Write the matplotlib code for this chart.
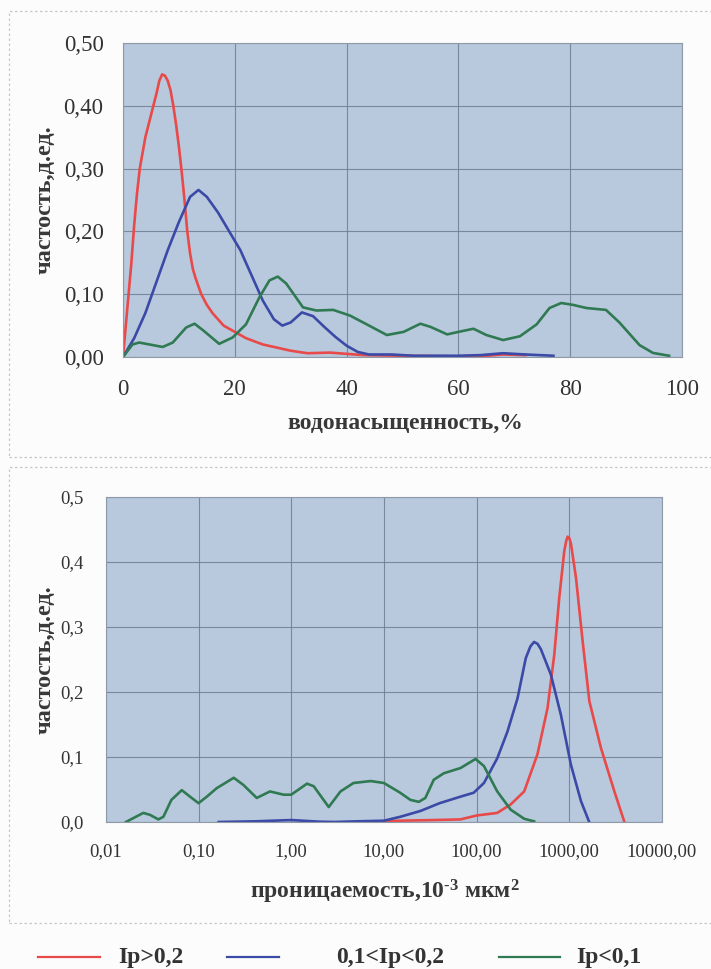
import matplotlib
matplotlib.use("Agg")
import matplotlib.pyplot as plt
from matplotlib.lines import Line2D
from matplotlib.patches import Rectangle

# ---------------- data: top chart (water saturation, %) ----------------
sw_red_x = [0, 0.5, 1, 1.5, 2, 2.5, 3, 4, 5, 6, 6.5, 7, 7.5, 8, 8.5, 9, 9.5, 10, 10.5, 11, 11.5, 12, 12.5, 13, 14, 15, 16, 18, 20, 22, 25, 28, 30, 33, 37, 40, 43, 50, 60, 65, 68, 72]
sw_red_y = [0, 0.05, 0.10, 0.15, 0.21, 0.26, 0.30, 0.35, 0.385, 0.42, 0.44, 0.45, 0.448, 0.44, 0.425, 0.40, 0.37, 0.335, 0.295, 0.25, 0.20, 0.165, 0.14, 0.125, 0.10, 0.083, 0.07, 0.05, 0.04, 0.03, 0.02, 0.014, 0.01, 0.006, 0.007, 0.005, 0.003, 0.002, 0.001, 0.002, 0.004, 0.003]

sw_blue_x = [0, 2, 4, 6, 8, 10, 12, 13.5, 15, 17, 19, 21, 23, 25, 27, 28.5, 30, 32, 34, 36, 38, 40, 42, 44, 48, 52, 60, 64, 68, 72, 77]
sw_blue_y = [0, 0.03, 0.07, 0.12, 0.17, 0.215, 0.255, 0.266, 0.255, 0.23, 0.20, 0.17, 0.13, 0.09, 0.06, 0.05, 0.055, 0.071, 0.065, 0.048, 0.032, 0.018, 0.008, 0.004, 0.004, 0.002, 0.002, 0.003, 0.006, 0.004, 0.002]

sw_green_x = [0, 1.7, 2.9, 4.7, 7.1, 8.9, 11.3, 12.8, 14.4, 17.2, 19.6, 22, 24.4, 26.2, 27.7, 29.2, 32.2, 34.6, 37.6, 40.6, 43.6, 47.2, 50.2, 53.2, 55, 58, 60, 62.7, 65, 68, 71, 74, 76.3, 78.4, 80.5, 82.9, 86.4, 88.8, 92.4, 94.8, 97.7]
sw_green_y = [0, 0.02, 0.023, 0.02, 0.016, 0.023, 0.047, 0.053, 0.042, 0.021, 0.031, 0.052, 0.095, 0.122, 0.128, 0.117, 0.079, 0.074, 0.075, 0.066, 0.052, 0.035, 0.04, 0.053, 0.048, 0.036, 0.040, 0.045, 0.035, 0.027, 0.033, 0.052, 0.078, 0.086, 0.083, 0.078, 0.075, 0.055, 0.019, 0.0065, 0.002]

sw_yticks = [0, 0.1, 0.2, 0.3, 0.4, 0.5]
sw_ylabels = ["0,00", "0,10", "0,20", "0,30", "0,40", "0,50"]
sw_xticks = [0, 20, 40, 60, 80, 100]
sw_xlabels = ["0", "20", "40", "60", "80", "100"]

# ---------------- data: bottom chart (permeability, 10^-3 um^2) ----------------
k_green_x = [0.0165, 0.0198, 0.0254, 0.030, 0.0369, 0.0418, 0.051, 0.066, 0.081, 0.10, 0.123, 0.157, 0.24, 0.305, 0.425, 0.59, 0.83, 1.0, 1.48, 1.75, 2.54, 3.4, 4.7, 7.2, 10, 15, 19.3, 23.8, 28, 34.5, 44.3, 67, 97.5, 120, 167, 233, 326, 417]
k_green_y = [0, 0.006, 0.014, 0.011, 0.004, 0.008, 0.034, 0.049, 0.039, 0.029, 0.039, 0.052, 0.068, 0.057, 0.037, 0.047, 0.042, 0.042, 0.059, 0.055, 0.023, 0.047, 0.060, 0.063, 0.060, 0.045, 0.034, 0.031, 0.037, 0.065, 0.075, 0.083, 0.097, 0.086, 0.047, 0.019, 0.005, 0.001]

k_blue_x = [0.165, 0.4, 1.0, 2.0, 2.9, 5.0, 10, 15, 24.8, 40, 67, 93, 120, 167, 215, 276, 339, 380, 417, 455, 493, 632, 811, 1041, 1337, 1640]
k_blue_y = [0.0, 0.001, 0.003, 0.0005, 0.0, 0.001, 0.002, 0.008, 0.017, 0.029, 0.039, 0.045, 0.060, 0.098, 0.139, 0.19, 0.252, 0.27, 0.277, 0.274, 0.266, 0.227, 0.165, 0.088, 0.032, 0.0]

k_red_x = [10.4, 15, 34.5, 67, 100, 167, 233, 326, 453, 582, 688, 779, 883, 925, 959, 1000, 1042, 1180, 1393, 1645, 2193, 3064, 3930]
k_red_y = [0.001, 0.002, 0.003, 0.004, 0.01, 0.014, 0.027, 0.047, 0.104, 0.175, 0.257, 0.345, 0.417, 0.432, 0.439, 0.437, 0.428, 0.376, 0.278, 0.186, 0.114, 0.047, 0.0]

k_yticks = [0, 0.1, 0.2, 0.3, 0.4, 0.5]
k_ylabels = ["0,0", "0,1", "0,2", "0,3", "0,4", "0,5"]
k_xticks = [0.01, 0.1, 1, 10, 100, 1000, 10000]
k_xlabels = ["0,01", "0,10", "1,00", "10,00", "100,00", "1000,00", "10000,00"]

legend_labels = ["Ip>0,2", "0,1<Ip<0,2", "Ip<0,1"]

# ---------------- styling ----------------
RED = "#e84a4a"
BLUE = "#3b4aa6"
GREEN = "#2f7a52"
PLOT_BG = "#b9c9dd"
GRID = "#6e7d90"
SERIF = ["Liberation Serif", "DejaVu Serif"]

plt.rcParams["font.family"] = SERIF
plt.rcParams["mathtext.fontset"] = "custom"
plt.rcParams["mathtext.rm"] = "Liberation Serif:bold"
plt.rcParams["mathtext.it"] = "Liberation Serif:bold"
plt.rcParams["mathtext.bf"] = "Liberation Serif:bold"
plt.rcParams["mathtext.default"] = "bf"

W, H = 711, 969
fig = plt.figure(figsize=(W / 100, H / 100), dpi=100)
fig.patch.set_facecolor("#fcfcfc")


def fx(px):
    return px / W


def fy(py):
    return 1 - py / H


# frames around each chart
for (x0, y0, x1, y1) in [(9, 11, 716, 457), (9, 467, 716, 923)]:
    fig.add_artist(Rectangle((fx(x0), fy(y1)), fx(x1 - x0), (y1 - y0) / H,
                             transform=fig.transFigure, fill=False,
                             edgecolor="#c8c8c8", lw=0.9, ls=(0, (2, 2))))


def style_axes(ax, tick_size):
    ax.set_facecolor(PLOT_BG)
    ax.grid(True, color=GRID, lw=0.8, alpha=0.85)
    ax.set_axisbelow(True)
    for s in ax.spines.values():
        s.set_color("#8f9aa8")
        s.set_linewidth(0.8)
    ax.tick_params(length=0, labelsize=tick_size, colors="#333333")


LW = 1.9
# ---- top axes ----
ax1 = fig.add_axes([fx(123), fy(357), fx(682 - 123), (357 - 43) / H])
style_axes(ax1, 16.5)
ax1.plot(sw_red_x, sw_red_y, color=RED, lw=LW, solid_joinstyle="round")
ax1.plot(sw_blue_x, sw_blue_y, color=BLUE, lw=LW, solid_joinstyle="round")
ax1.plot(sw_green_x, sw_green_y, color=GREEN, lw=LW, solid_joinstyle="round")
ax1.set_xlim(0, 100)
ax1.set_ylim(0, 0.5)
ax1.set_xticks(sw_xticks, sw_xlabels)
ax1.set_yticks(sw_yticks, sw_ylabels)
ax1.tick_params(axis="x", pad=16)
ax1.tick_params(axis="y", pad=14)

fig.text(fx(405), fy(423), "водонасыщенность,%", ha="center", va="center",
         fontsize=17, fontweight="bold", color="#383838")
fig.text(fx(45), fy(200), "частость,д.ед.", ha="center", va="center",
         rotation=90, fontsize=17.5, fontweight="bold", color="#383838")

# ---- bottom axes ----
ax2 = fig.add_axes([fx(105.8), fy(822), fx(662 - 105.8), (822 - 497) / H])
style_axes(ax2, 13.5)
ax2.set_xscale("log")
ax2.plot(k_red_x, k_red_y, color=RED, lw=LW, solid_joinstyle="round")
ax2.plot(k_blue_x, k_blue_y, color=BLUE, lw=LW, solid_joinstyle="round")
ax2.plot(k_green_x, k_green_y, color=GREEN, lw=LW, solid_joinstyle="round")
ax2.set_xlim(0.01, 10000)
ax2.set_ylim(0, 0.5)
ax2.set_xticks(k_xticks, k_xlabels)
ax2.minorticks_off()
ax2.set_yticks(k_yticks, k_ylabels)
ax2.tick_params(axis="x", pad=15)
ax2.tick_params(axis="y", pad=16)

fig.text(fx(385), fy(892), r"проницаемость,10$^{\text{-3}}$ мкм$^{2}$", ha="center", va="center",
         fontsize=17, fontweight="bold", color="#383838")
fig.text(fx(45), fy(660), "частость,д.ед.", ha="center", va="center",
         rotation=90, fontsize=17.5, fontweight="bold", color="#383838")

# ---- legend ----
leg_y = fy(957)
for (lx0, lx1, tx, col, lab) in [(38, 100, 118, RED, legend_labels[0]),
                                  (227, 279, 336, BLUE, legend_labels[1]),
                                  (499, 560, 576, GREEN, legend_labels[2])]:
    fig.add_artist(Line2D([fx(lx0), fx(lx1)], [leg_y, leg_y], transform=fig.transFigure,
                          color=col, lw=1.6))
    fig.text(fx(tx), leg_y, lab, ha="left", va="center", fontsize=17,
             fontweight="bold", color="#333333")

fig.savefig("out.png", dpi=100, facecolor=fig.get_facecolor())
